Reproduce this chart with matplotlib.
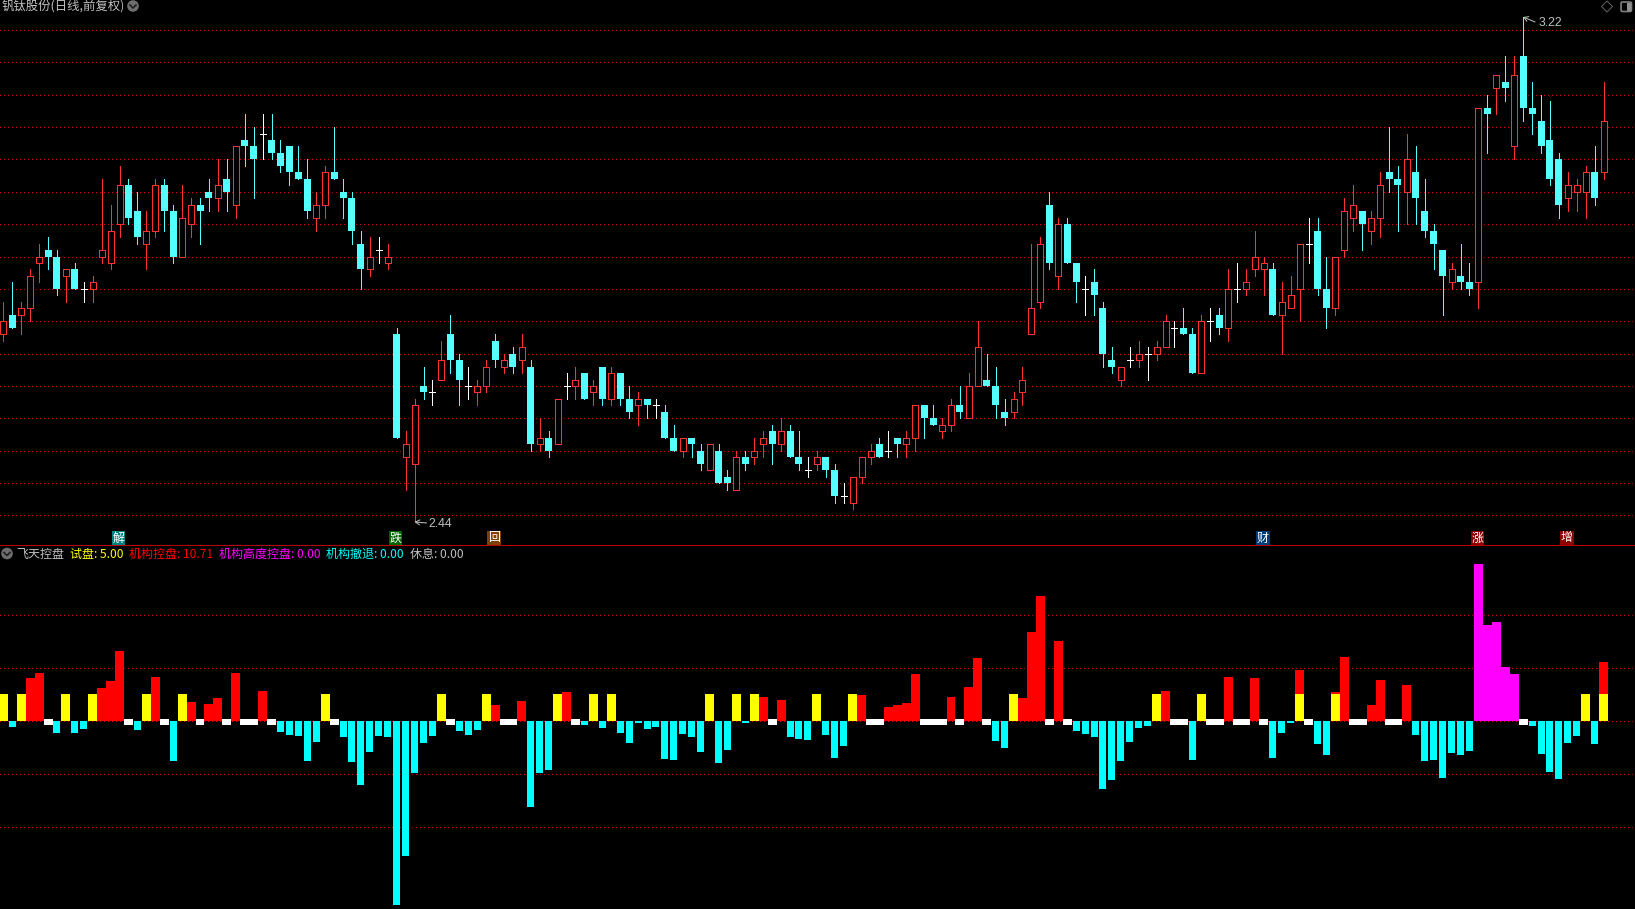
import matplotlib
matplotlib.use("Agg")
import matplotlib.pyplot as plt
from matplotlib.patches import Circle, Polygon, Rectangle, FancyBboxPatch
import numpy as np

# ---------- data ----------
open_ = [2.73,2.76,2.76,2.77,2.84,2.86,2.85,2.82,2.83,2.80,
2.80,2.85,2.84,2.90,2.96,2.92,2.87,2.89,2.96,2.92,
2.85,2.90,2.93,2.95,2.94,2.97,2.93,3.03,3.02,3.04,
3.03,3.01,3.02,2.98,2.97,2.91,2.93,2.98,2.95,2.94,
2.87,2.83,2.86,2.84,2.73,2.54,2.53,2.65,2.64,2.66,
2.73,2.69,2.65,2.64,2.65,2.72,2.68,2.70,2.69,2.68,
2.56,2.57,2.56,2.65,2.65,2.67,2.64,2.68,2.63,2.67,
2.63,2.62,2.63,2.62,2.61,2.57,2.55,2.57,2.55,2.52,
2.55,2.51,2.49,2.54,2.54,2.56,2.58,2.56,2.58,2.54,
2.52,2.53,2.54,2.52,2.48,2.47,2.51,2.54,2.56,2.55,
2.57,2.56,2.57,2.62,2.60,2.58,2.59,2.62,2.60,2.65,
2.66,2.65,2.61,2.61,2.64,2.73,2.78,2.93,2.82,2.90,
2.84,2.80,2.81,2.77,2.69,2.66,2.69,2.69,2.70,2.70,
2.71,2.74,2.74,2.73,2.67,2.75,2.76,2.74,2.80,2.80,
2.83,2.83,2.83,2.76,2.77,2.80,2.87,2.89,2.80,2.77,
2.86,2.91,2.92,2.89,2.91,2.98,2.97,2.95,2.98,2.92,
2.89,2.86,2.81,2.82,2.81,2.81,3.08,3.11,3.12,3.02,
3.16,3.08,3.06,3.03,3.00,2.94,2.95,2.95,2.98,2.98]
close = [2.75,2.74,2.77,2.82,2.85,2.85,2.80,2.83,2.80,2.80,
2.81,2.86,2.89,2.96,2.91,2.88,2.89,2.96,2.92,2.85,
2.91,2.93,2.92,2.94,2.96,2.95,3.02,3.02,3.00,3.04,
3.01,2.99,2.98,2.97,2.92,2.93,2.98,2.97,2.94,2.89,
2.83,2.85,2.86,2.85,2.57,2.56,2.62,2.64,2.64,2.69,
2.69,2.66,2.65,2.65,2.68,2.69,2.69,2.68,2.71,2.56,
2.57,2.55,2.63,2.65,2.66,2.63,2.65,2.63,2.67,2.63,
2.61,2.63,2.62,2.62,2.57,2.55,2.57,2.56,2.53,2.56,
2.50,2.50,2.54,2.53,2.55,2.57,2.56,2.58,2.54,2.53,
2.52,2.54,2.52,2.48,2.48,2.51,2.54,2.55,2.54,2.55,
2.56,2.57,2.62,2.60,2.59,2.59,2.62,2.61,2.65,2.71,
2.65,2.62,2.60,2.63,2.66,2.77,2.87,2.84,2.90,2.84,
2.81,2.80,2.79,2.70,2.68,2.68,2.69,2.70,2.70,2.71,
2.75,2.74,2.73,2.67,2.75,2.75,2.74,2.80,2.80,2.81,
2.85,2.84,2.76,2.78,2.79,2.87,2.87,2.80,2.77,2.85,
2.92,2.93,2.90,2.91,2.96,2.97,2.96,3.00,2.94,2.89,
2.87,2.82,2.83,2.81,2.80,3.08,3.07,3.13,3.11,3.13,
3.08,3.07,3.02,2.97,2.93,2.96,2.96,2.98,2.94,3.06]
high = [2.78,2.81,2.78,2.83,2.87,2.88,2.86,2.83,2.84,2.81,
2.82,2.97,2.93,2.99,2.97,2.95,2.92,2.97,2.97,2.93,
2.96,2.94,2.94,2.97,3.00,3.00,3.02,3.07,3.05,3.07,
3.07,3.03,3.02,3.02,3.00,2.95,2.99,3.05,2.97,2.95,
2.89,2.88,2.88,2.87,2.74,2.58,2.63,2.68,2.66,2.72,
2.76,2.70,2.68,2.66,2.69,2.73,2.70,2.71,2.73,2.69,
2.60,2.58,2.63,2.67,2.68,2.67,2.66,2.68,2.68,2.67,
2.65,2.64,2.63,2.63,2.62,2.59,2.57,2.57,2.56,2.56,
2.56,2.52,2.55,2.55,2.57,2.58,2.59,2.60,2.59,2.58,
2.54,2.55,2.54,2.53,2.50,2.51,2.54,2.56,2.57,2.58,
2.57,2.58,2.62,2.62,2.62,2.60,2.63,2.65,2.67,2.75,
2.70,2.68,2.63,2.64,2.68,2.87,2.88,2.95,2.91,2.91,
2.84,2.82,2.83,2.78,2.71,2.68,2.71,2.72,2.71,2.72,
2.76,2.75,2.77,2.74,2.76,2.77,2.77,2.83,2.84,2.83,
2.89,2.85,2.84,2.81,2.82,2.87,2.91,2.91,2.85,2.85,
2.94,2.96,2.92,2.92,2.98,3.05,2.99,3.04,3.02,2.97,
2.90,2.86,2.84,2.87,2.84,3.08,3.10,3.13,3.16,3.16,
3.22,3.12,3.10,3.09,3.01,2.98,2.97,2.99,3.02,3.12]
low = [2.72,2.74,2.73,2.75,2.81,2.83,2.79,2.78,2.80,2.78,
2.78,2.84,2.83,2.88,2.90,2.87,2.83,2.88,2.89,2.84,
2.85,2.88,2.87,2.92,2.92,2.92,2.91,2.99,2.94,3.00,
3.00,2.98,2.96,2.97,2.91,2.89,2.91,2.97,2.91,2.87,
2.80,2.82,2.84,2.83,2.57,2.49,2.44,2.63,2.62,2.66,
2.67,2.62,2.63,2.62,2.64,2.68,2.67,2.67,2.67,2.55,
2.55,2.54,2.56,2.63,2.63,2.63,2.62,2.62,2.62,2.62,
2.60,2.59,2.60,2.60,2.57,2.55,2.54,2.54,2.52,2.52,
2.50,2.49,2.49,2.52,2.53,2.54,2.53,2.55,2.54,2.52,
2.51,2.52,2.51,2.47,2.47,2.46,2.50,2.53,2.54,2.54,
2.54,2.54,2.55,2.57,2.59,2.57,2.58,2.60,2.60,2.65,
2.65,2.60,2.59,2.60,2.62,2.73,2.77,2.83,2.80,2.84,
2.78,2.76,2.76,2.68,2.67,2.65,2.68,2.68,2.66,2.69,
2.71,2.71,2.73,2.67,2.67,2.72,2.73,2.72,2.78,2.79,
2.82,2.79,2.76,2.70,2.77,2.75,2.84,2.79,2.74,2.76,
2.85,2.89,2.86,2.87,2.88,2.95,2.89,2.90,2.90,2.88,
2.83,2.76,2.80,2.80,2.79,2.77,3.01,3.07,3.09,3.00,
3.06,3.04,3.01,2.96,2.91,2.92,2.92,2.91,2.93,2.97]

trial_idx = [0,2,7,10,16,20,36,49,54,62,66,68,79,82,84,91,95,113,129,134,145,149,177,179]
trial_val = 5.0
rest_idx = [5,14,18,22,25,27,28,30,37,50,56,57,64,86,97,98,103,104,105,107,110,117,119,
            131,132,135,136,138,139,141,146,151,152,155,156,170]
rest_val = 1.1
control_idx = [3,4,11,12,13,17,21,23,24,26,29,55,58,63,85,87,96,99,100,101,102,106,108,109,
               114,115,116,118,130,137,140,145,149,150,153,154,157,179]
control_val = [7.9,8.7,6.1,7.4,12.85,8.1,3.6,3.2,4.3,8.85,5.6,3.0,3.75,5.3,4.4,3.8,4.7,2.55,2.9,3.3,8.55,4.4,6.2,11.45,
               4.2,16.2,22.7,14.55,5.45,8.0,7.8,9.3,5.3,11.65,2.9,7.45,6.55,10.71]
high_idx = [165,166,167,168,169]
high_val = [28.55,17.45,18.0,9.8,8.55]
retreat_idx = [1,6,8,9,15,19,31,32,33,34,35,38,39,40,41,42,43,44,45,46,47,48,51,52,53,59,60,61,65,67,
               69,70,71,72,73,74,75,76,77,78,80,81,83,88,89,90,92,93,94,111,112,
               120,121,122,123,124,125,126,127,128,133,142,143,144,147,148,
               158,159,160,161,162,163,164,171,172,173,174,175,176,178]
retreat_val = [1.1,2.2,2.2,1.45,1.6,7.3,2.0,2.55,2.7,7.3,3.8,2.9,7.45,11.65,5.6,2.7,2.9,33.45,24.4,9.45,4.0,2.7,1.8,2.55,1.6,15.6,9.45,8.9,0.7,1.3,
               2.2,4.0,0.35,1.45,1.1,6.9,7.1,2.35,2.9,5.6,7.6,5.3,0.35,2.9,3.3,3.45,2.55,6.7,4.55,3.6,4.9,
               1.8,2.35,2.9,12.35,10.7,7.3,3.8,1.3,0.9,7.1,6.7,2.2,0.35,4.2,6.2,
               2.55,7.3,7.1,10.35,5.8,6.2,5.45,0.9,6.0,9.3,10.55,4.0,2.7,4.2]

price_grid = [2.45,2.50,2.55,2.60,2.65,2.70,2.75,2.80,2.85,2.90,2.95,3.00,3.05,3.10,3.15,3.20]
ind_grid = [-19.27,-9.64,0,9.64,19.27]
signal_idx = [13,44,55,141,165,175]
signal_txt = ["解","跌","回","财","涨","增"]
signal_col = ["#008080","#006400","#804000","#003C78","#8B0000","#8B0000"]
title = "钒钛股份(日线,前复权)"
ind_name = "飞天控盘"
legend_txt = ["试盘: 5.00","机构控盘: 10.71","机构高度控盘: 0.00","机构撤退: 0.00","休息: 0.00"]
legend_col = ["#FFFF00","#FF0000","#FF00FF","#00FFFF","#C0C0C0"]
legend_x = [70,129,219,326,410]

# ---------- layout (pixels) ----------
W, H = 1635, 909
PX = 72/100           # one pixel in points
STEP = 8.94
X0 = 3.33
SPLIT = 545.3
RED = "#FF3232"; CYAN = "#54FFFF"; GRID = "#C00000"
CJK = ["Noto Sans CJK SC","DejaVu Sans"]

fig = plt.figure(figsize=(W/100, H/100), dpi=100, facecolor="black")
top = fig.add_axes([0, 1-SPLIT/H, 1, SPLIT/H])
bot = fig.add_axes([0, 0, 1, 1-SPLIT/H])
xlim = (-X0/STEP, (W-X0)/STEP)
y_price = lambda px: 3.22-(px-17)/647.4
for ax in (top, bot):
    ax.set_facecolor("black")
    ax.set_xlim(*xlim)
    ax.set_xticks([])
    ax.tick_params(length=0, labelleft=False)
    ax.set_axisbelow(True)
    for s in ax.spines.values():
        s.set_visible(False)
top.set_ylim(y_price(SPLIT), y_price(0))
PXU = 5.5
BASE = 721.3
bot.set_ylim(-(H-BASE)/PXU, (BASE-SPLIT)/PXU)
top.set_yticks(price_grid)
bot.set_yticks(ind_grid)
for ax in (top, bot):
    ax.grid(axis="y", color=GRID, lw=PX, ls=(0,(0.9,3.1)), antialiased=False)

# ---------- candles ----------
o = np.array(open_); c = np.array(close); h = np.array(high); l = np.array(low)
x = np.arange(len(o))
up = c > o; dn = c < o; fl = c == o
for mask, col in ((up, RED), (dn, CYAN), (fl, "#FFFFFF")):
    top.vlines(x[mask], l[mask], h[mask], color=col, lw=PX, antialiased=False, zorder=2)
top.bar(x[up], (c-o)[up], bottom=o[up], width=6/STEP, facecolor="black", edgecolor=RED,
        linewidth=PX, antialiased=False, zorder=3)
top.bar(x[dn], (o-c)[dn], bottom=c[dn], width=7/STEP, facecolor=CYAN, linewidth=0,
        antialiased=False, zorder=3)
top.hlines(c[fl], x[fl]-3/STEP, x[fl]+3/STEP, color="#FFFFFF", lw=PX, antialiased=False, zorder=3)

# extremes
imax = int(np.argmax(h)); imin = int(np.argmin(l))
txt = dict(color="#C0C0C0", fontsize=8.8, family="Liberation Sans", va="center", ha="left")
arrow = dict(arrowstyle="->,head_length=0.5,head_width=0.3", color="#C0C0C0", lw=PX,
             shrinkA=0, shrinkB=0, mutation_scale=6)
top.annotate("%.2f" % l[imin], (imin, l[imin]), xytext=(14*PX, -2*PX), textcoords="offset points", **txt)
top.annotate("", (imin, l[imin]), xytext=(12*PX, -1*PX), textcoords="offset points", arrowprops=arrow)
top.annotate("%.2f" % h[imax], (imax, h[imax]), xytext=(15.5*PX, -5.7*PX), textcoords="offset points", **txt)
top.annotate("", (imax, h[imax]), xytext=(12*PX, -5*PX), textcoords="offset points", arrowprops=arrow)

# signals
for i, t, col in zip(signal_idx, signal_txt, signal_col):
    fig.text((X0+STEP*i-1)/W, 1-538/H, t, color="white", fontsize=8.64, family=CJK, ha="center", va="center",
             bbox=dict(boxstyle="square,pad=0.06", fc=col, ec="none"))

# ---------- indicator ----------
bot.bar(np.array(control_idx), control_val, width=1.0, color="#FF0000", linewidth=0, antialiased=False, zorder=3)
bot.bar(np.array(trial_idx), [trial_val]*len(trial_idx), width=1.0, color="#FFFF00", linewidth=0, antialiased=False, zorder=4)
bot.bar(np.array(high_idx), high_val, width=1.0, color="#FF00FF", linewidth=0, antialiased=False, zorder=4)
bot.bar(np.array(retreat_idx), -np.array(retreat_val), width=7/STEP, color="#00FFFF", linewidth=0, antialiased=False, zorder=3)
bot.bar(np.array(rest_idx), [rest_val]*len(rest_idx), bottom=-0.6, width=1.0, color="#FFFFFF", linewidth=0, antialiased=False, zorder=3)

# ---------- overlay: pane line, texts, icons ----------
ov = fig.add_axes([0,0,1,1], facecolor="none")
ov.set_xlim(0,W); ov.set_ylim(H,0); ov.axis("off")
ov.axhline(SPLIT, color="#B80000", lw=PX, antialiased=False)
ov.text(2, 6.5, title, color="#C0C0C0", fontsize=8.9, family=CJK, va="center", ha="left")
ov.text(16.5, 554.5, ind_name, color="#C0C0C0", fontsize=8.64, family=CJK, va="center", ha="left")
for t, col, xp in zip(legend_txt, legend_col, legend_x):
    ov.text(xp, 554.5, t, color=col, fontsize=8.64, family=CJK, va="center", ha="left")
for cx, cy in ((133, 6), (7, 553.5)):
    ov.add_patch(Circle((cx, cy), 5.8, fc="#6E6E6E", ec="none"))
    ov.plot([cx-3, cx, cx+3], [cy-1, cy+2, cy-1], color="#1E1E1E", lw=1.2)
ov.add_patch(Polygon([(1607,1),(1612.5,6.5),(1607,12),(1601.5,6.5)], closed=True, fc="none", ec="#606060", lw=PX))
ov.add_patch(FancyBboxPatch((1621,2),10.5,9.5,boxstyle="round,pad=0,rounding_size=1.5", fc="none", ec="#808080", lw=1.2))
ov.add_patch(Rectangle((1626.5,3),4,7.5, fc="#909090", ec="none"))

fig.savefig("out.png", dpi=100, facecolor="black")
